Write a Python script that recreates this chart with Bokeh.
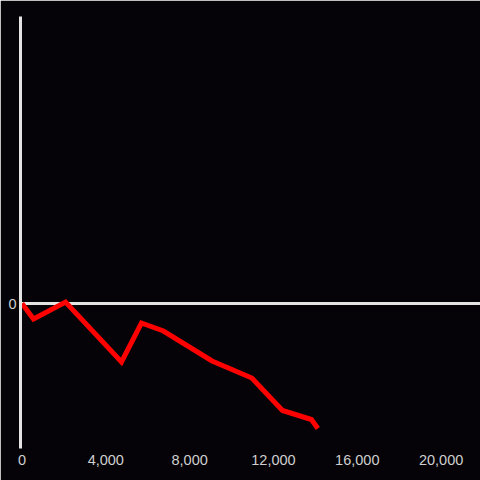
from bokeh.plotting import figure
from bokeh.models import FixedTicker, NumeralTickFormatter, Span, Range1d
from bokeh.embed import file_html
from bokeh.resources import INLINE

# data
x_vals = [0, 550, 2080, 4750, 5700, 6750, 9070, 10970, 12430, 13810, 14120]
y_vals = [0, -155, 15, -585, -195, -275, -575, -745, -1070, -1160, -1250]
x_ticks = [0, 4000, 8000, 12000, 16000, 20000]
y_ticks = [0]

BG = "#050307"
AXIS = "#e4e4e4"
LABEL = "#cfcfcf"
FONT_SIZE = "14.5px"

p = figure(width=480, height=480, output_backend="svg", toolbar_location=None,
           x_range=Range1d(-70, 21880), y_range=Range1d(-1450, 2870),
           min_border_left=20, min_border_right=0, min_border_top=16, min_border_bottom=32)

p.background_fill_color = BG
p.border_fill_color = BG
p.outline_line_color = BG
p.outline_line_width = 2
p.xgrid.visible = False
p.ygrid.visible = False

zero = Span(location=0, dimension="width", line_color=AXIS, line_width=3, level="underlay")
p.add_layout(zero)

p.line(x_vals, y_vals, line_color="#ff0000", line_width=5, line_join="miter")

xa = p.xaxis[0]
xa.ticker = FixedTicker(ticks=x_ticks)
xa.formatter = NumeralTickFormatter(format="0,0")
xa.axis_line_color = None
xa.major_tick_line_color = None
xa.minor_tick_line_color = None
xa.major_tick_out = 0
xa.major_tick_in = 0
xa.major_label_standoff = 6
xa.major_label_text_color = LABEL
xa.major_label_text_font = "Liberation Sans"
xa.major_label_text_font_size = FONT_SIZE

ya = p.yaxis[0]
ya.ticker = FixedTicker(ticks=y_ticks)
ya.axis_line_color = AXIS
ya.axis_line_width = 3
ya.major_tick_line_color = None
ya.minor_tick_line_color = None
ya.major_tick_out = 0
ya.major_tick_in = 0
ya.major_label_standoff = 4
ya.major_label_text_color = LABEL
ya.major_label_text_font = "Liberation Sans"
ya.major_label_text_font_size = FONT_SIZE

html = file_html(p, INLINE)
html = html.replace("<body>", '<body style="margin:0;background:%s;">' % BG, 1)
open("out.html", "w").write(html)
